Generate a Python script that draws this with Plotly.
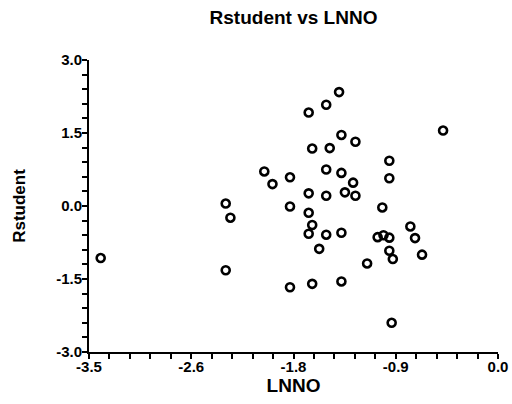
import plotly.graph_objects as go

# LNNO (x) and Rstudent (y) values
lnno = [-3.40, -2.33, -2.29, -2.33, -2.00, -1.93, -1.78, -1.78, -1.78,
        -1.36, -1.47, -1.62, -1.34, -1.22, -1.59, -1.44, -0.47, -0.93, -0.93,
        -1.47, -1.34, -1.24, -1.62, -1.47, -1.31, -1.22, -0.99, -1.62, -1.59,
        -1.62, -1.47, -1.34, -1.53, -1.03, -0.98, -0.93, -0.75, -0.71, -0.93,
        -0.90, -0.65, -1.12, -1.59, -1.34, -0.91]
rstudent = [-1.07, 0.05, -0.24, -1.32, 0.71, 0.45, 0.59, -0.01, -1.67,
            2.34, 2.08, 1.92, 1.46, 1.32, 1.18, 1.19, 1.55, 0.93, 0.57,
            0.75, 0.68, 0.48, 0.26, 0.21, 0.28, 0.21, -0.03, -0.14, -0.39,
            -0.57, -0.59, -0.55, -0.88, -0.64, -0.60, -0.65, -0.42, -0.66, -0.92,
            -1.09, -1.00, -1.18, -1.60, -1.55, -2.40]

x_tick_vals = [-3.5 + 0.175 * i for i in range(21)]
x_major = {0: "-3.5", 5: "-2.6", 10: "-1.8", 15: "-0.9", 20: "0.0"}
x_tick_text = [x_major.get(i, "") for i in range(21)]

y_tick_vals = [-3.0 + 0.3 * i for i in range(21)]
y_major = {0: "-3.0", 5: "-1.5", 10: "0.0", 15: "1.5", 20: "3.0"}
y_tick_text = [y_major.get(i, "") for i in range(21)]

FONT = "Liberation Sans, Arial, sans-serif"

fig = go.Figure(go.Scatter(
    x=lnno, y=rstudent, mode="markers",
    marker=dict(symbol="circle-open", size=8, color="black",
                line=dict(width=2.6, color="black")),
))

fig.update_layout(
    width=512, height=404,
    margin=dict(l=89, r=14, t=60, b=52),
    paper_bgcolor="white", plot_bgcolor="white",
    showlegend=False,
    font=dict(family=FONT, color="black"),
    title=dict(text="Rstudent vs LNNO", x=0.5, xref="paper",
               y=1 - 17 / 404, yref="container", yanchor="middle",
               font=dict(size=19, family=FONT, weight="bold", color="black")),
)

fig.update_xaxes(
    range=[-3.5, 0.0], showgrid=False, zeroline=False, automargin=False,
    showline=True, linecolor="black", linewidth=2,
    ticks="outside", ticklen=5, tickwidth=1.5, tickcolor="black",
    tickmode="array", tickvals=x_tick_vals, ticktext=x_tick_text,
    ticklabelstandoff=-5,
    tickfont=dict(size=15, family=FONT, weight="bold"),
    title=dict(text="LNNO", standoff=2,
               font=dict(size=19, family=FONT, weight="bold")),
)
fig.update_yaxes(
    range=[-3.0, 3.0], showgrid=False, zeroline=False, automargin=False,
    showline=True, linecolor="black", linewidth=2,
    ticks="outside", ticklen=5, tickwidth=1.5, tickcolor="black",
    tickmode="array", tickvals=y_tick_vals, ticktext=y_tick_text,
    ticklabelstandoff=-3,
    tickfont=dict(size=15, family=FONT, weight="bold"),
    title=dict(text="Rstudent", standoff=26,
               font=dict(size=17, family=FONT, weight="bold")),
)

fig.write_html("out.html")
